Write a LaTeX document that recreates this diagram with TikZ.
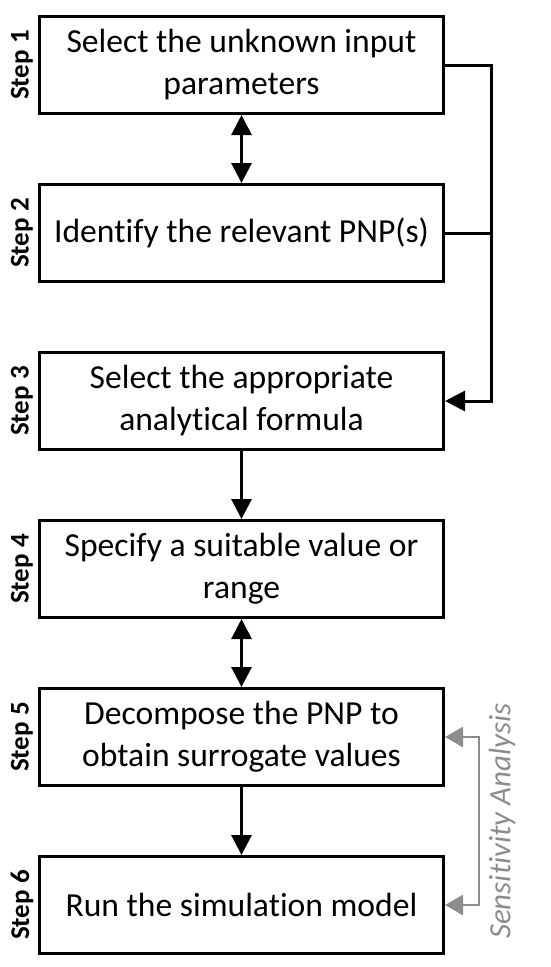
\documentclass[tikz,border=0pt]{standalone}
\usepackage{fontspec}
\setmainfont[Ligatures={NoCommon}]{Carlito}
\usetikzlibrary{arrows.meta}
\begin{document}
\begin{tikzpicture}[x=1pt,y=-1pt,
  stepbox/.style={draw=black, line width=3pt, rectangle, minimum width=404pt, minimum height=97pt,
    align=center, inner sep=0pt, font=\fontsize{33.6}{42}\selectfont},
  steplabel/.style={rotate=90, font=\bfseries\fontsize{27}{32}\selectfont, inner sep=0pt},
  conn/.style={line width=3pt, black},
  gconn/.style={line width=2.5pt, color=sagray}
]
\definecolor{sagray}{HTML}{8C8C8C}
\useasboundingbox (0,0) rectangle (550,967);

\node[stepbox] (b1) at (241.5,65) {Select the unknown input\\parameters};
\node[stepbox] (b2) at (241.5,233) {Identify the relevant PNP(s)};
\node[stepbox] (b3) at (241.5,401) {Select the appropriate\\analytical formula};
\node[stepbox] (b4) at (241.5,569) {Specify a suitable value or\\range};
\node[stepbox] (b5) at (241.5,737) {Decompose the PNP to\\obtain surrogate values};
\node[stepbox] (b6) at (241.5,905) {Run the simulation model};

\node[steplabel] (s1) at (22,65) {Step 1};
\node[steplabel] (s2) at (22,233) {Step 2};
\node[steplabel] (s3) at (22,401) {Step 3};
\node[steplabel] (s4) at (22,569) {Step 4};
\node[steplabel] (s5) at (22,737) {Step 5};
\node[steplabel] (s6) at (22,905) {Step 6};

\draw[conn, {Triangle[length=20pt,width=20pt]}-{Triangle[length=20pt,width=20pt]}] (b1.south) -- (b2.north);
\draw[conn, -{Triangle[length=20pt,width=20pt]}] (b3.south) -- (b4.north);
\draw[conn, {Triangle[length=20pt,width=20pt]}-{Triangle[length=20pt,width=20pt]}] (b4.south) -- (b5.north);
\draw[conn, -{Triangle[length=20pt,width=20pt]}] (b5.south) -- (b6.north);

\coordinate (r1) at (491,65);
\coordinate (r2) at (491,233);
\coordinate (r3) at (491,401);
\draw[conn, -{Triangle[length=20pt,width=20pt]}] (b1.east) -- (r1) -- (r3) -- (b3.east);
\draw[conn] (b2.east) -- (r2);

\coordinate (g1) at (479,737);
\coordinate (g2) at (479,905);
\draw[gconn, {Triangle[length=18pt,width=20pt]}-{Triangle[length=18pt,width=20pt]}] (b5.east) -- (g1) -- (g2) -- (b6.east);
\node[rotate=90, text=sagray, font=\itshape\fontsize{31}{36}\selectfont, inner sep=0pt] (sa) at (502,821) {Sensitivity Analysis};
\end{tikzpicture}
\end{document}
